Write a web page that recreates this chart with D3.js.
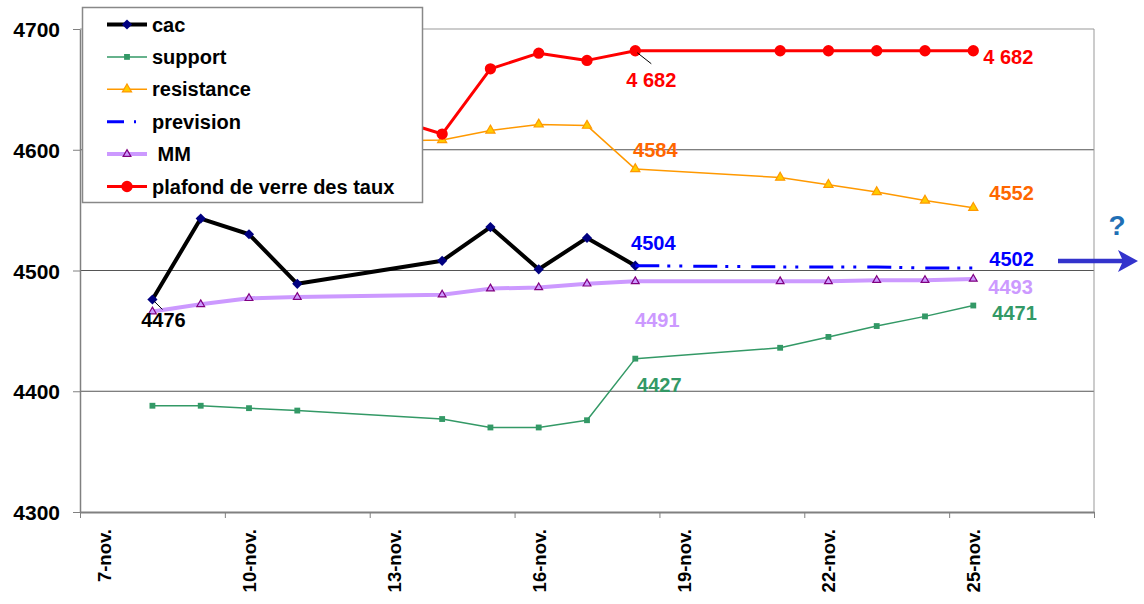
<!DOCTYPE html>
<html>
<head>
<meta charset="utf-8">
<script src="https://cdn.jsdelivr.net/npm/d3@7"></script>
<style>
body { margin: 0; background: #fff; }
text { font-family: "Liberation Sans", Arial, sans-serif; font-weight: bold; }
</style>
</head>
<body>
<div id="chart"></div>
<script>
// dates de cotation (nov. 2011)
const dates = ["2011-11-08","2011-11-09","2011-11-10","2011-11-11","2011-11-14","2011-11-15","2011-11-16",
               "2011-11-17","2011-11-18","2011-11-21","2011-11-22","2011-11-23","2011-11-24","2011-11-25"];
const cac        = [4476, 4543, 4530, 4489, 4508, 4536, 4501, 4527, 4504, null, null, null, null, null];
const support    = [4388, 4388, 4386, 4384, 4377, 4370, 4370, 4376, 4427, 4436, 4445, 4454, 4462, 4471];
const resistance = [4605, 4606, 4606, 4606, 4608, 4616, 4621, 4620, 4584, 4577, 4571, 4565, 4558, 4552];
const prevision  = [null, null, null, null, null, null, null, null, 4504, 4503, 4503, 4503, 4502, 4502];
const mm         = [4466, 4472, 4477, 4478, 4480, 4485, 4486, 4489, 4491, 4491, 4491, 4492, 4492, 4493];
const plafond    = [4640, 4645, 4650, 4650, 4613, 4667, 4680, 4674, 4682, 4682, 4682, 4682, 4682, 4682];

const yTicks = [4300, 4400, 4500, 4600, 4700];
const xTickDates = ["2011-11-07","2011-11-10","2011-11-13","2011-11-16","2011-11-19","2011-11-22","2011-11-25","2011-11-28"];
const xLabels = ["7-nov.", "10-nov.", "13-nov.", "16-nov.", "19-nov.", "22-nov.", "25-nov.", ""];

const W = 1144, H = 604;
const plot = {left: 80, right: 1094, top: 29, bottom: 512};
const parse = d3.timeParse("%Y-%m-%d");
const DAY = 864e5;

const x = d3.scaleTime()
    .domain([parse("2011-11-07"), parse("2011-11-28")])
    .range([plot.left, plot.right]);
const y = d3.scaleLinear()
    .domain([4300, 4700])
    .range([plot.bottom, plot.top]);
const halfDay = x(new Date(+parse("2011-11-07") + DAY / 2)) - plot.left;

// les points sont au centre de chaque jour
const xd = i => x(new Date(+parse(dates[i]) + DAY / 2));

const series = [
  {name: "cac", values: cac, color: "#000000", width: 4, symbol: d3.symbolSquare, rot: 45, size: 52, fill: "#000080", stroke: "none"},
  {name: "support", values: support, color: "#339966", width: 1.5, symbol: d3.symbolSquare, size: 34, fill: "#339966", stroke: "none"},
  {name: "resistance", values: resistance, color: "#ff9900", width: 1.5, symbol: d3.symbolTriangle, size: 36, fill: "#ffcc00", stroke: "#ff9900"},
  {name: "prevision", values: prevision, color: "#0000ff", width: 3, dash: "24,8,3,9,3,11", symbol: null},
  {name: " MM", values: mm, color: "#cc99ff", width: 4, symbol: d3.symbolTriangle, size: 26, fill: "#cc99ff", stroke: "#800080"},
  {name: "plafond de verre des taux", values: plafond, color: "#ff0000", width: 3, symbol: d3.symbolCircle, size: 100, fill: "#ff0000", stroke: "none"}
];

const svg = d3.select("#chart").append("svg")
    .attr("width", W)
    .attr("height", H);

// grille horizontale
svg.selectAll("line.grid").data(yTicks.slice(1)).enter()
    .append("line")
    .attr("x1", plot.left).attr("x2", plot.right)
    .attr("y1", d => y(d)).attr("y2", d => y(d))
    .attr("stroke", d => d === 4700 ? "#999" : "#555")
    .attr("stroke-width", 1);
// bord droit
svg.append("line")
    .attr("x1", plot.right).attr("x2", plot.right)
    .attr("y1", plot.top).attr("y2", plot.bottom)
    .attr("stroke", "#999");

// axe Y
const gy = svg.append("g")
    .attr("transform", "translate(" + plot.left + ",0)")
    .call(d3.axisLeft(y).tickValues(yTicks).tickFormat(d3.format("d"))
          .tickSize(7).tickPadding(13).tickSizeOuter(0));
gy.select(".domain").attr("stroke", "#808080").attr("stroke-width", 1.5);
gy.selectAll(".tick line").attr("stroke", "#808080");
gy.selectAll("text").attr("font-size", 21).attr("fill", "#000").attr("dy", "0.36em")
    .style("font-family", "'Liberation Sans', Arial, sans-serif").style("font-weight", "bold");

// axe X
const gx = svg.append("g")
    .attr("transform", "translate(0," + plot.bottom + ")")
    .call(d3.axisBottom(x).tickValues(xTickDates.map(parse)).tickSize(6).tickSizeOuter(0)
          .tickFormat((d, i) => xLabels[i]));
gx.select(".domain").attr("stroke", "#808080").attr("stroke-width", 2);
gx.selectAll(".tick line").attr("stroke", "#808080");
gx.selectAll("text")
    .attr("font-size", 18.5).attr("fill", "#000")
    .attr("x", 0).attr("y", 0).attr("dy", 0)
    .attr("text-anchor", "end")
    .attr("transform", "translate(" + (halfDay + 6.5) + ",17) rotate(-90)")
    .style("font-family", "'Liberation Sans', Arial, sans-serif").style("font-weight", "bold");

// courbes
const line = d3.line()
    .defined(d => d.v !== null)
    .x(d => xd(d.i))
    .y(d => y(d.v));

series.forEach(s => {
    const pts = s.values.map((v, i) => ({i: i, v: v}));
    svg.append("path")
        .datum(pts)
        .attr("fill", "none")
        .attr("stroke", s.color)
        .attr("stroke-width", s.width)
        .attr("stroke-linejoin", "round")
        .attr("stroke-dasharray", s.dash || null)
        .attr("d", line);
    if (s.symbol) {
        svg.selectAll(null).data(pts.filter(d => d.v !== null)).enter()
            .append("path")
            .attr("transform", d => "translate(" + xd(d.i) + "," + y(d.v) + ") rotate(" + (s.rot || 0) + ")")
            .attr("d", d3.symbol().type(s.symbol).size(s.size))
            .attr("fill", s.fill)
            .attr("stroke", s.stroke)
            .attr("stroke-width", 1.2);
    }
});

// étiquettes de valeurs
const fmtSpace = d3.formatLocale({decimal: ",", thousands: " ", grouping: [3], currency: ["", ""]}).format(",d");
const fmt = d3.format("d");
const labels = [
  {s: cac, i: 0, color: "#000000", dx: 11, dy: 28, anchor: "middle", f: fmt, leader: [2, 2, 10, 10]},
  {s: cac, i: 8, color: "#0000ff", dx: 18, dy: -16, anchor: "middle", f: fmt},
  {s: resistance, i: 8, color: "#ff6600", dx: 20, dy: -12.5, anchor: "middle", f: fmt},
  {s: plafond, i: 8, color: "#ff0000", dx: 16, dy: 36, anchor: "middle", f: fmtSpace, leader: [2, 2, 16, 13]},
  {s: mm, i: 8, color: "#cc99ff", dx: 22, dy: 46, anchor: "middle", f: fmt},
  {s: support, i: 8, color: "#339966", dx: 24, dy: 33, anchor: "middle", f: fmt},
  {s: plafond, i: 13, color: "#ff0000", dx: 10, dy: 13.6, anchor: "start", f: fmtSpace},
  {s: resistance, i: 13, color: "#ff6600", dx: 16, dy: -8, anchor: "start", f: fmt},
  {s: prevision, i: 13, color: "#0000ff", dx: 16, dy: -2, anchor: "start", f: fmt},
  {s: mm, i: 13, color: "#cc99ff", dx: 15, dy: 15, anchor: "start", f: fmt},
  {s: support, i: 13, color: "#339966", dx: 19, dy: 14, anchor: "start", f: fmt}
];
labels.forEach(l => {
    const px = xd(l.i), py = y(l.s[l.i]);
    if (l.leader) {
        svg.append("line")
            .attr("x1", px + l.leader[0]).attr("y1", py + l.leader[1])
            .attr("x2", px + l.leader[2]).attr("y2", py + l.leader[3])
            .attr("stroke", "#000").attr("stroke-width", 1);
    }
    svg.append("text")
        .attr("x", px + l.dx).attr("y", py + l.dy)
        .attr("text-anchor", l.anchor)
        .attr("font-size", 20)
        .attr("fill", l.color)
        .text(l.f(l.s[l.i]));
});

// flèche et point d'interrogation
svg.append("line")
    .attr("x1", 1058).attr("x2", 1124)
    .attr("y1", y(4502) - 7).attr("y2", y(4502) - 7)
    .attr("stroke", "#3333cc").attr("stroke-width", 4.5);
svg.append("path")
    .attr("d", "M1118," + (y(4502) - 18) + " L1138," + (y(4502) - 7) + " L1118," + (y(4502) + 4) + " L1123," + (y(4502) - 7) + "Z")
    .attr("fill", "#3333cc");
svg.append("text")
    .attr("x", 1117).attr("y", 235)
    .attr("text-anchor", "middle")
    .attr("font-size", 28)
    .attr("fill", "#1f6fb5")
    .text("?");

// légende
const legend = svg.append("g");
legend.append("rect")
    .attr("x", 82.5).attr("y", 7.5).attr("width", 340).attr("height", 195)
    .attr("fill", "#fff").attr("stroke", "#888").attr("stroke-width", 1.5);
series.forEach((s, k) => {
    const ly = 24.5 + k * 32.4;
    legend.append("line")
        .attr("x1", 107).attr("x2", 147).attr("y1", ly).attr("y2", ly)
        .attr("stroke", s.color).attr("stroke-width", s.width)
        .attr("stroke-dasharray", s.dash ? "17,10,2,100" : null);
    if (s.symbol) {
        legend.append("path")
            .attr("transform", "translate(127," + ly + ") rotate(" + (s.rot || 0) + ")")
            .attr("d", d3.symbol().type(s.symbol).size(s.size))
            .attr("fill", s.fill).attr("stroke", s.stroke).attr("stroke-width", 1.2);
    }
    legend.append("text")
        .attr("x", 152).attr("y", ly + 7)
        .attr("font-size", 20)
        .attr("fill", "#000")
        .attr("xml:space", "preserve")
        .style("white-space", "pre")
        .text(s.name);
});
</script>
</body>
</html>
